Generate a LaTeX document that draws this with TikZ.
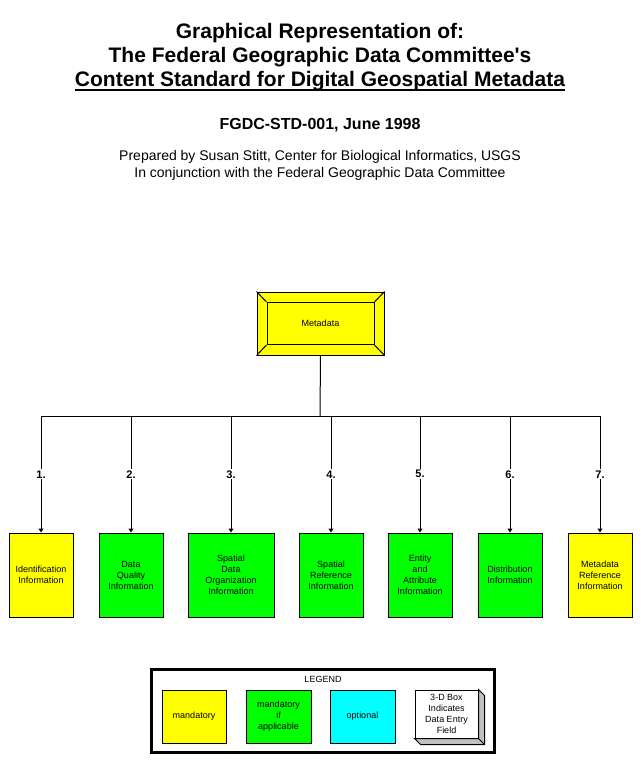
\documentclass[tikz,border=0pt]{standalone}
\usepackage{fontspec}
\setmainfont{Liberation Sans}
\usetikzlibrary{arrows.meta}
\definecolor{mandyellow}{RGB}{255,255,0}
\definecolor{ifgreen}{RGB}{0,255,0}
\definecolor{optcyan}{RGB}{0,255,255}
\definecolor{sidegray}{RGB}{192,192,192}
\tikzset{
    infobox/.style = {draw, line width=1pt, align=center, minimum width=64, minimum height=84,
        inner sep=1pt, font=\fontsize{9}{11}\selectfont},
    mand/.style = {infobox, fill=mandyellow},
    ifapp/.style = {infobox, fill=ifgreen},
    keybox/.style = {infobox, minimum height=53},
    titletext/.style = {anchor=base, inner sep=0pt},
    numlab/.style = {fill=white, inner sep=1pt, font=\fontsize{11}{12}\selectfont\bfseries},
    arr/.style = {-{Triangle[width=5pt,length=4pt]}, line width=1pt}
}

\begin{document}
\begin{tikzpicture}[x=1pt, y=-1pt]
    \useasboundingbox (0,0) rectangle (640,760);

    \node[titletext, font=\fontsize{21}{24}\selectfont\bfseries] (title1) at (320,39) {Graphical Representation of:};
    \node[titletext, font=\fontsize{21}{24}\selectfont\bfseries] (title2) at (320,63) {The Federal Geographic Data Committee\textquotesingle s};
    \node[titletext, font=\fontsize{21}{24}\selectfont\bfseries] (title3) at (320,86) {Content Standard for Digital Geospatial Metadata};
    \draw[line width=1.6pt] ([yshift=-4pt]title3.base west) -- ([yshift=-4pt]title3.base east);
    \node[titletext, font=\fontsize{16}{18}\selectfont\bfseries] (stdno) at (320,129) {FGDC-STD-001, June 1998};
    \node[titletext, font=\fontsize{14}{17}\selectfont] (prep1) at (320,160) {Prepared by Susan Stitt, Center for Biological Informatics, USGS};
    \node[titletext, font=\fontsize{14}{17}\selectfont] (prep2) at (320,177) {In conjunction with the Federal Geographic Data Committee};

    % root box
    \node[draw, line width=1pt, fill=mandyellow, minimum width=127, minimum height=63] (meta) at (320.5,323.5) {};
    \node[draw, line width=1pt, minimum width=107, minimum height=42, font=\fontsize{9}{11}\selectfont] (metain) at (meta) {Metadata};
    \foreach \c in {north west, north east, south west, south east}
        \draw[line width=1pt] (meta.\c) -- (metain.\c);

    \node[mand] (ident) at (41,575) {Identification\\Information};
    \node[ifapp] (dqual) at (131,575) {Data\\Quality\\Information};
    \node[ifapp, minimum width=86] (sdorg) at (231,575) {Spatial\\Data\\Organization\\Information};
    \node[ifapp] (sref) at (331,575) {Spatial\\Reference\\Information};
    \node[ifapp] (entattr) at (420,575) {Entity\\and\\Attribute\\Information};
    \node[ifapp] (distrib) at (510,575) {Distribution\\Information};
    \node[mand] (mref) at (600,575) {Metadata\\Reference\\Information};

    \coordinate (bar) at (320,416);
    \draw[line width=1pt] (meta.south) -- (bar);
    \draw[line width=1pt] (bar -| ident.north) -- (bar -| mref.north);
    \foreach \b/\n in {ident/1, dqual/2, sdorg/3, sref/4, entattr/5, distrib/6, mref/7}
        \draw[arr] (bar -| \b.north) -- node[numlab] {\n.} (\b.north);

    % legend
    \node[draw, line width=3pt, minimum width=343, minimum height=83] (legend) at (323,711) {};
    \node[font=\fontsize{9}{11}\selectfont] (legtitle) at (323,679) {LEGEND};
    \node[keybox, fill=mandyellow] (keymand) at (194,716.5) {mandatory};
    \node[keybox, fill=ifgreen, minimum width=65] (keyif) at (278.5,716.5) {mandatory\\if\\applicable};
    \node[keybox, fill=optcyan, minimum width=65] (keyopt) at (362.5,716.5) {optional};
    \node[keybox, fill=white, minimum width=63, minimum height=48] (key3d) at (446.5,714) {3-D Box\\Indicates\\Data Entry\\Field};
    \draw[line width=1pt, fill=sidegray] (key3d.north east) -- ++(6,6) -- ([shift={(6,6)}]key3d.south east)
        -- ([shift={(6,6)}]key3d.south west) -- (key3d.south west) -- (key3d.south east) -- cycle;
    \draw[line width=1pt] (key3d.south east) -- ++(6,6);
\end{tikzpicture}
\end{document}
